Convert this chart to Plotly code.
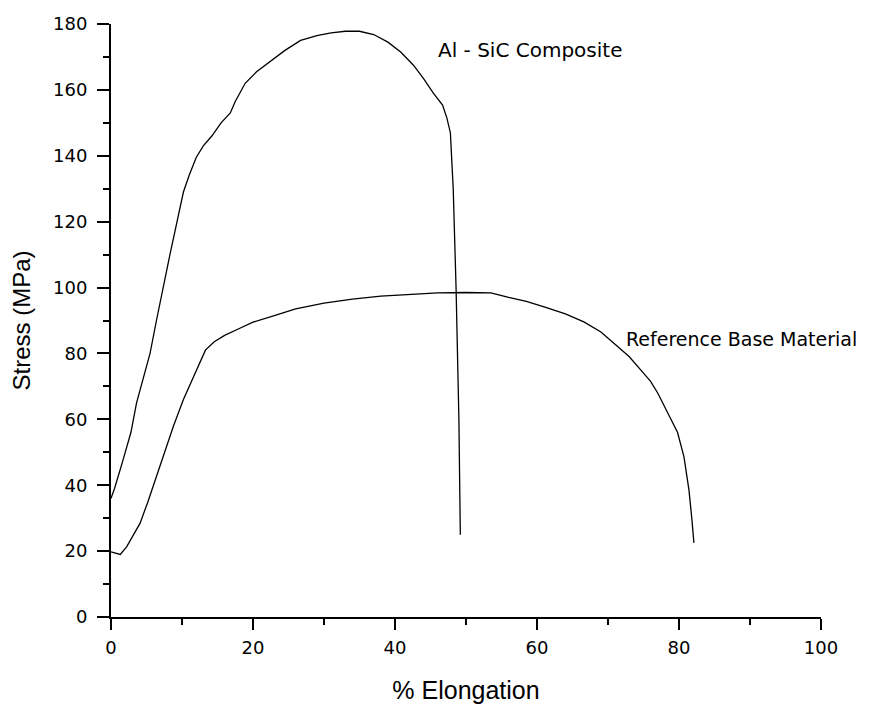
import plotly.graph_objects as go

# Al-SiC composite curve
comp_x = [0, 0.5, 1.7, 2.8, 3.6, 4.5, 5.5, 6.4, 7.3, 8.3, 9.3, 10.2, 11, 12, 13, 14.2, 15.5, 16.8,
          17.5, 18.9, 20.5, 22.4, 24.5, 26.7, 29, 31, 33, 35, 37, 39, 40.8, 42.6, 44, 45.4, 46.7,
          47.3, 47.8, 48.2, 48.6, 49.0, 49.2]
comp_y = [36, 39, 47.7, 56, 65, 72, 80, 90, 100, 110, 120, 129, 134, 139.5, 143, 146, 150, 153,
          156.5, 162, 165.5, 168.5, 172, 175, 176.5, 177.3, 177.8, 177.8, 176.8, 174.5, 171.5,
          167.5, 163.5, 159, 155.4, 151.5, 147, 130, 100, 60, 25]

# Reference base material curve
base_x = [0, 0.5, 1.3, 2.2, 3.0, 4.1, 5.2, 6.4, 7.5, 8.8, 10.2, 11.5, 12.5, 13.3, 14.5, 16, 18, 20,
          23, 26, 30, 34, 38, 42, 46, 50, 53.5, 56, 58.5, 61, 64, 66.6, 69, 71.4, 73, 74.6, 76,
          77, 78.4, 79.8, 80.7, 81.4, 81.8, 82.1]
base_y = [19.8, 19.5, 19.0, 21.3, 24.5, 28.5, 35, 42.6, 50, 58, 66, 72.5, 77.5, 81, 83.5, 85.5,
          87.5, 89.5, 91.5, 93.5, 95.3, 96.5, 97.4, 98, 98.4, 98.5, 98.4, 97, 95.8, 94.1, 92,
          89.6, 86.5, 82, 79, 75, 71.5, 68, 62, 56, 48.6, 38.6, 30, 22.5]

x_ticks = [0, 20, 40, 60, 80, 100]
y_ticks = [0, 20, 40, 60, 80, 100, 120, 140, 160, 180]

FONT = "Liberation Sans, Arial, sans-serif"
WIDE = "DejaVu Sans, sans-serif"

fig = go.Figure()
fig.add_trace(go.Scatter(x=comp_x, y=comp_y, mode="lines",
                         line=dict(color="black", width=1.3), showlegend=False))
fig.add_trace(go.Scatter(x=base_x, y=base_y, mode="lines",
                         line=dict(color="black", width=1.3), showlegend=False))

fig.add_annotation(x=45.8, y=172, text="Al - SiC Composite", showarrow=False,
                   xanchor="left", yanchor="middle", font=dict(family=WIDE, size=20, color="black"))
fig.add_annotation(x=72.3, y=84.4, text="Reference Base Material", showarrow=False,
                   xanchor="left", yanchor="middle", font=dict(family=WIDE, size=19, color="black"))

fig.update_xaxes(range=[0, 100], tickvals=x_ticks, showgrid=False, zeroline=False,
                 automargin=False,
                 showline=True, linecolor="black", linewidth=2, ticks="outside",
                 ticklen=11, tickwidth=2, tickcolor="black", ticklabelstandoff=2,
                 minor=dict(dtick=10, ticks="outside", ticklen=6, tickwidth=2, tickcolor="black"),
                 tickfont=dict(family=WIDE, size=18, color="black"),
                 title=dict(text="% Elongation", font=dict(family=FONT, size=25, color="black"),
                            standoff=25))
fig.update_yaxes(range=[0, 180], tickvals=y_ticks, showgrid=False, zeroline=False,
                 automargin=False,
                 showline=True, linecolor="black", linewidth=2, ticks="outside",
                 ticklen=12, tickwidth=2, tickcolor="black", ticklabelstandoff=6,
                 minor=dict(dtick=10, ticks="outside", ticklen=6, tickwidth=2, tickcolor="black"),
                 tickfont=dict(family=WIDE, size=18, color="black"),
                 title=dict(text="Stress (MPa)", font=dict(family=FONT, size=24, color="black"),
                            standoff=20))

fig.update_layout(width=860, height=696, plot_bgcolor="white", paper_bgcolor="white",
                  margin=dict(l=103, r=47, t=16, b=87), font=dict(family=FONT))

fig.write_html("out.html")
